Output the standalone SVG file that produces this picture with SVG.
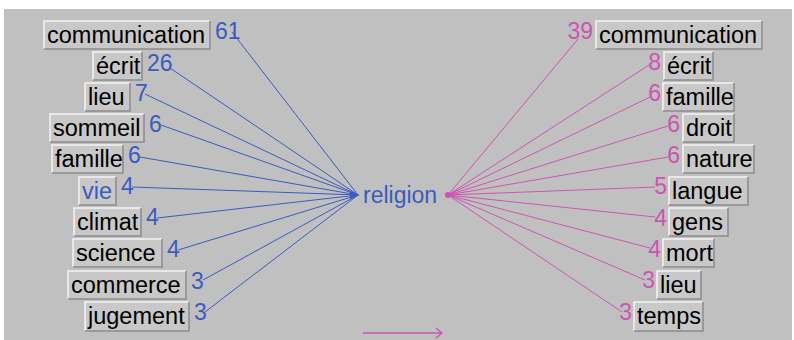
<svg xmlns="http://www.w3.org/2000/svg" width="794" height="340" viewBox="0 0 794 340">
<style>
.bx{fill:#c8c8c8}
.hl{fill:none;stroke:#f4f4f4;stroke-width:1.5}
.sh{fill:none;stroke:#8a8a8a;stroke-width:1.5}
.t{font-family:"Liberation Sans",Arial,sans-serif;font-size:23.5px;fill:#000}
.nb{font-family:"Liberation Sans",Arial,sans-serif;font-size:23px;fill:#3a5bbf}
.np{font-family:"Liberation Sans",Arial,sans-serif;font-size:23px;fill:#cc55b0}
.lb{stroke:#3a5bbf;stroke-width:1;fill:none}
.lp{stroke:#cc55b0;stroke-width:1;fill:none}
</style>
<defs>
<marker id="ap" markerWidth="10" markerHeight="12" refX="8" refY="6" orient="auto" markerUnits="userSpaceOnUse">
<path d="M2,1 L8,6 L2,11" fill="none" stroke="#cc55b0" stroke-width="1.5"/>
</marker>
</defs>
<rect x="4" y="9" width="788" height="331" fill="#c0c0c0"/>
<g id="connectors">
<line class="lb" x1="232" y1="32" x2="358" y2="195"/>
<line class="lb" x1="170" y1="68" x2="358" y2="195"/>
<line class="lb" x1="145" y1="94" x2="358" y2="195"/>
<line class="lb" x1="161" y1="125" x2="358" y2="195"/>
<line class="lb" x1="140" y1="157" x2="358" y2="195"/>
<line class="lb" x1="132" y1="187" x2="358" y2="195"/>
<line class="lb" x1="157" y1="218" x2="358" y2="195"/>
<line class="lb" x1="178" y1="250" x2="358" y2="195"/>
<line class="lb" x1="203" y1="280" x2="358" y2="195"/>
<line class="lb" x1="205" y1="312" x2="358" y2="195"/>
<path d="M350,191 L360,195 L350,199 Z" fill="#3a5bbf"/>
<line class="lp" x1="448" y1="195" x2="578" y2="39"/>
<line class="lp" x1="448" y1="195" x2="649" y2="65"/>
<line class="lp" x1="448" y1="195" x2="650" y2="97"/>
<line class="lp" x1="448" y1="195" x2="668" y2="126"/>
<line class="lp" x1="448" y1="195" x2="668" y2="157"/>
<line class="lp" x1="448" y1="195" x2="655" y2="187"/>
<line class="lp" x1="448" y1="195" x2="655" y2="217"/>
<line class="lp" x1="448" y1="195" x2="650" y2="248"/>
<line class="lp" x1="448" y1="195" x2="645" y2="280"/>
<line class="lp" x1="448" y1="195" x2="622" y2="312"/>
<circle cx="448" cy="195" r="3" fill="#cc55b0"/>
<line x1="363" y1="333" x2="442" y2="333" stroke="#cc55b0" stroke-width="1.5" marker-end="url(#ap)"/>
</g>
<g id="center"><text class="nb" x="363" y="203" font-size="23.5">religion</text></g>
<g id="l-communication"><rect class="bx" x="44" y="21" width="166" height="28"/><path class="hl" d="M44,49 V21 H210"/><path class="sh" d="M210,21 V49 H44"/><text class="t" x="47" y="43">communication</text><text class="nb" x="215" y="39">61</text></g>
<g id="l-ecrit"><rect class="bx" x="93" y="52" width="49" height="28"/><path class="hl" d="M93,80 V52 H142"/><path class="sh" d="M142,52 V80 H93"/><text class="t" x="96" y="74">écrit</text><text class="nb" x="147" y="71">26</text></g>
<g id="l-lieu"><rect class="bx" x="85" y="83" width="45" height="28"/><path class="hl" d="M85,111 V83 H130"/><path class="sh" d="M130,83 V111 H85"/><text class="t" x="88" y="105">lieu</text><text class="nb" x="135" y="101">7</text></g>
<g id="l-sommeil"><rect class="bx" x="50" y="114" width="94" height="28"/><path class="hl" d="M50,142 V114 H144"/><path class="sh" d="M144,114 V142 H50"/><text class="t" x="53" y="136">sommeil</text><text class="nb" x="149" y="132">6</text></g>
<g id="l-famille"><rect class="bx" x="52" y="145" width="71" height="28"/><path class="hl" d="M52,173 V145 H123"/><path class="sh" d="M123,145 V173 H52"/><text class="t" x="55" y="167">famille</text><text class="nb" x="128" y="163">6</text></g>
<g id="l-vie"><rect class="bx" x="79" y="177" width="37" height="28"/><path class="hl" d="M79,205 V177 H116"/><path class="sh" d="M116,177 V205 H79"/><text class="t" x="82" y="199" fill="#3a5bbf" style="fill:#3a5bbf">vie</text><text class="nb" x="121" y="194">4</text></g>
<g id="l-climat"><rect class="bx" x="74" y="208" width="67" height="28"/><path class="hl" d="M74,236 V208 H141"/><path class="sh" d="M141,208 V236 H74"/><text class="t" x="77" y="230">climat</text><text class="nb" x="146" y="225">4</text></g>
<g id="l-science"><rect class="bx" x="73" y="239" width="89" height="28"/><path class="hl" d="M73,267 V239 H162"/><path class="sh" d="M162,239 V267 H73"/><text class="t" x="76" y="261">science</text><text class="nb" x="167" y="257">4</text></g>
<g id="l-commerce"><rect class="bx" x="68" y="271" width="118" height="28"/><path class="hl" d="M68,299 V271 H186"/><path class="sh" d="M186,271 V299 H68"/><text class="t" x="71" y="293">commerce</text><text class="nb" x="191" y="289">3</text></g>
<g id="l-jugement"><rect class="bx" x="85" y="302" width="104" height="29"/><path class="hl" d="M85,331 V302 H189"/><path class="sh" d="M189,302 V331 H85"/><text class="t" x="88" y="324">jugement</text><text class="nb" x="194" y="320">3</text></g>
<g id="r-communication"><rect class="bx" x="596" y="21" width="166" height="28"/><path class="hl" d="M596,49 V21 H762"/><path class="sh" d="M762,21 V49 H596"/><text class="t" x="599" y="43">communication</text><text class="np" x="593" y="39" text-anchor="end">39</text></g>
<g id="r-ecrit"><rect class="bx" x="664" y="52" width="49" height="28"/><path class="hl" d="M664,80 V52 H713"/><path class="sh" d="M713,52 V80 H664"/><text class="t" x="667" y="74">écrit</text><text class="np" x="661" y="70" text-anchor="end">8</text></g>
<g id="r-famille"><rect class="bx" x="663" y="83" width="71" height="28"/><path class="hl" d="M663,111 V83 H734"/><path class="sh" d="M734,83 V111 H663"/><text class="t" x="666" y="105">famille</text><text class="np" x="661" y="101" text-anchor="end">6</text></g>
<g id="r-droit"><rect class="bx" x="683" y="114" width="51" height="28"/><path class="hl" d="M683,142 V114 H734"/><path class="sh" d="M734,114 V142 H683"/><text class="t" x="686" y="136">droit</text><text class="np" x="680" y="132" text-anchor="end">6</text></g>
<g id="r-nature"><rect class="bx" x="683" y="145" width="71" height="28"/><path class="hl" d="M683,173 V145 H754"/><path class="sh" d="M754,145 V173 H683"/><text class="t" x="686" y="167">nature</text><text class="np" x="680" y="163" text-anchor="end">6</text></g>
<g id="r-langue"><rect class="bx" x="669" y="177" width="79" height="28"/><path class="hl" d="M669,205 V177 H748"/><path class="sh" d="M748,177 V205 H669"/><text class="t" x="672" y="199">langue</text><text class="np" x="667" y="194" text-anchor="end">5</text></g>
<g id="r-gens"><rect class="bx" x="669" y="208" width="59" height="28"/><path class="hl" d="M669,236 V208 H728"/><path class="sh" d="M728,208 V236 H669"/><text class="t" x="672" y="230">gens</text><text class="np" x="667" y="226" text-anchor="end">4</text></g>
<g id="r-mort"><rect class="bx" x="663" y="239" width="51" height="28"/><path class="hl" d="M663,267 V239 H714"/><path class="sh" d="M714,239 V267 H663"/><text class="t" x="666" y="261">mort</text><text class="np" x="661" y="257" text-anchor="end">4</text></g>
<g id="r-lieu"><rect class="bx" x="657" y="271" width="44" height="28"/><path class="hl" d="M657,299 V271 H701"/><path class="sh" d="M701,271 V299 H657"/><text class="t" x="660" y="293">lieu</text><text class="np" x="655" y="288" text-anchor="end">3</text></g>
<g id="r-temps"><rect class="bx" x="634" y="302" width="69" height="29"/><path class="hl" d="M634,331 V302 H703"/><path class="sh" d="M703,302 V331 H634"/><text class="t" x="637" y="324">temps</text><text class="np" x="632" y="320" text-anchor="end">3</text></g>
</svg>
